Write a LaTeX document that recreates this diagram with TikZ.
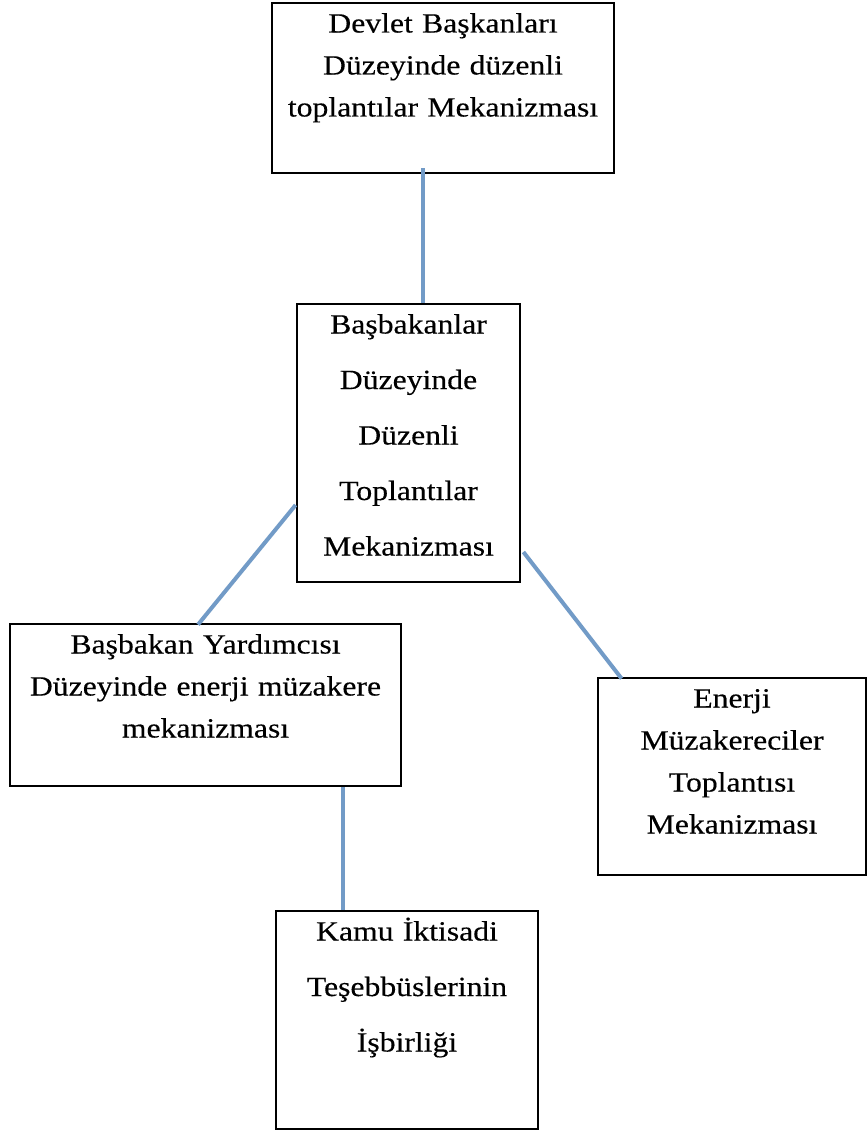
\documentclass[tikz,border=0pt]{standalone}
\usepackage{fontspec}
\setmainfont{Liberation Serif}[FakeStretch=1.14, FakeBold=0.3]
\definecolor{linkblue}{RGB}{114,155,199}

\begin{document}
\begin{tikzpicture}
[
x = 1pt, y = 1pt,
box/.style = {rectangle, draw, line width = 2.8pt, inner sep = 0pt, align = center, text height = 29.5pt},
single/.style = {font = \fontsize{27.8pt}{42pt}\selectfont},
double/.style = {font = \fontsize{27.8pt}{55.5pt}\selectfont},
link/.style = {draw = linkblue, line width = 4pt}
]
    \useasboundingbox (0,0) rectangle (867,-1131);

    \node[box, double, text width = 223pt, text depth = 248.5pt] (basbakan) at (408.5,-443) {Başbakanlar\\Düzeyinde\\Düzenli\\Toplantılar\\Mekanizması};
    \node[box, single, text width = 342pt, text depth = 140.5pt] (devlet) at ([xshift = 34.5pt, yshift = 355pt]basbakan) {Devlet Başkanları\\Düzeyinde düzenli\\toplantılar Mekanizması};
    \node[box, single, text width = 391pt, text depth = 132.5pt] (yardimci) at ([xshift = -203pt, yshift = -262pt]basbakan) {Başbakan Yardımcısı\\Düzeyinde enerji müzakere\\mekanizması};
    \node[box, single, text width = 268pt, text depth = 167.5pt] (muzakere) at ([xshift = 323.5pt, yshift = -333.5pt]basbakan) {Enerji\\Müzakereciler\\Toplantısı\\Mekanizması};
    \node[box, double, text width = 262pt, text depth = 188.5pt] (kit) at ([xshift = -1.5pt, yshift = -577pt]basbakan) {Kamu İktisadi\\Teşebbüslerinin\\İşbirliği};


    \draw[link] ([xshift = -20pt, yshift = 6pt]devlet.south) -- ([xshift = -20pt]devlet.south |- basbakan.north);
    \draw[link] ([yshift = -62pt]basbakan.west) -- ([xshift = -7.5pt, yshift = -2pt]yardimci.north);
    \draw[link] ([xshift = 2pt, yshift = -109pt]basbakan.east) -- ([xshift = 25pt, yshift = -2pt]muzakere.north west);
    \draw[link] ([xshift = 137.5pt]yardimci.south) -- ([xshift = 137.5pt]yardimci.south |- kit.north);
\end{tikzpicture}
\end{document}
